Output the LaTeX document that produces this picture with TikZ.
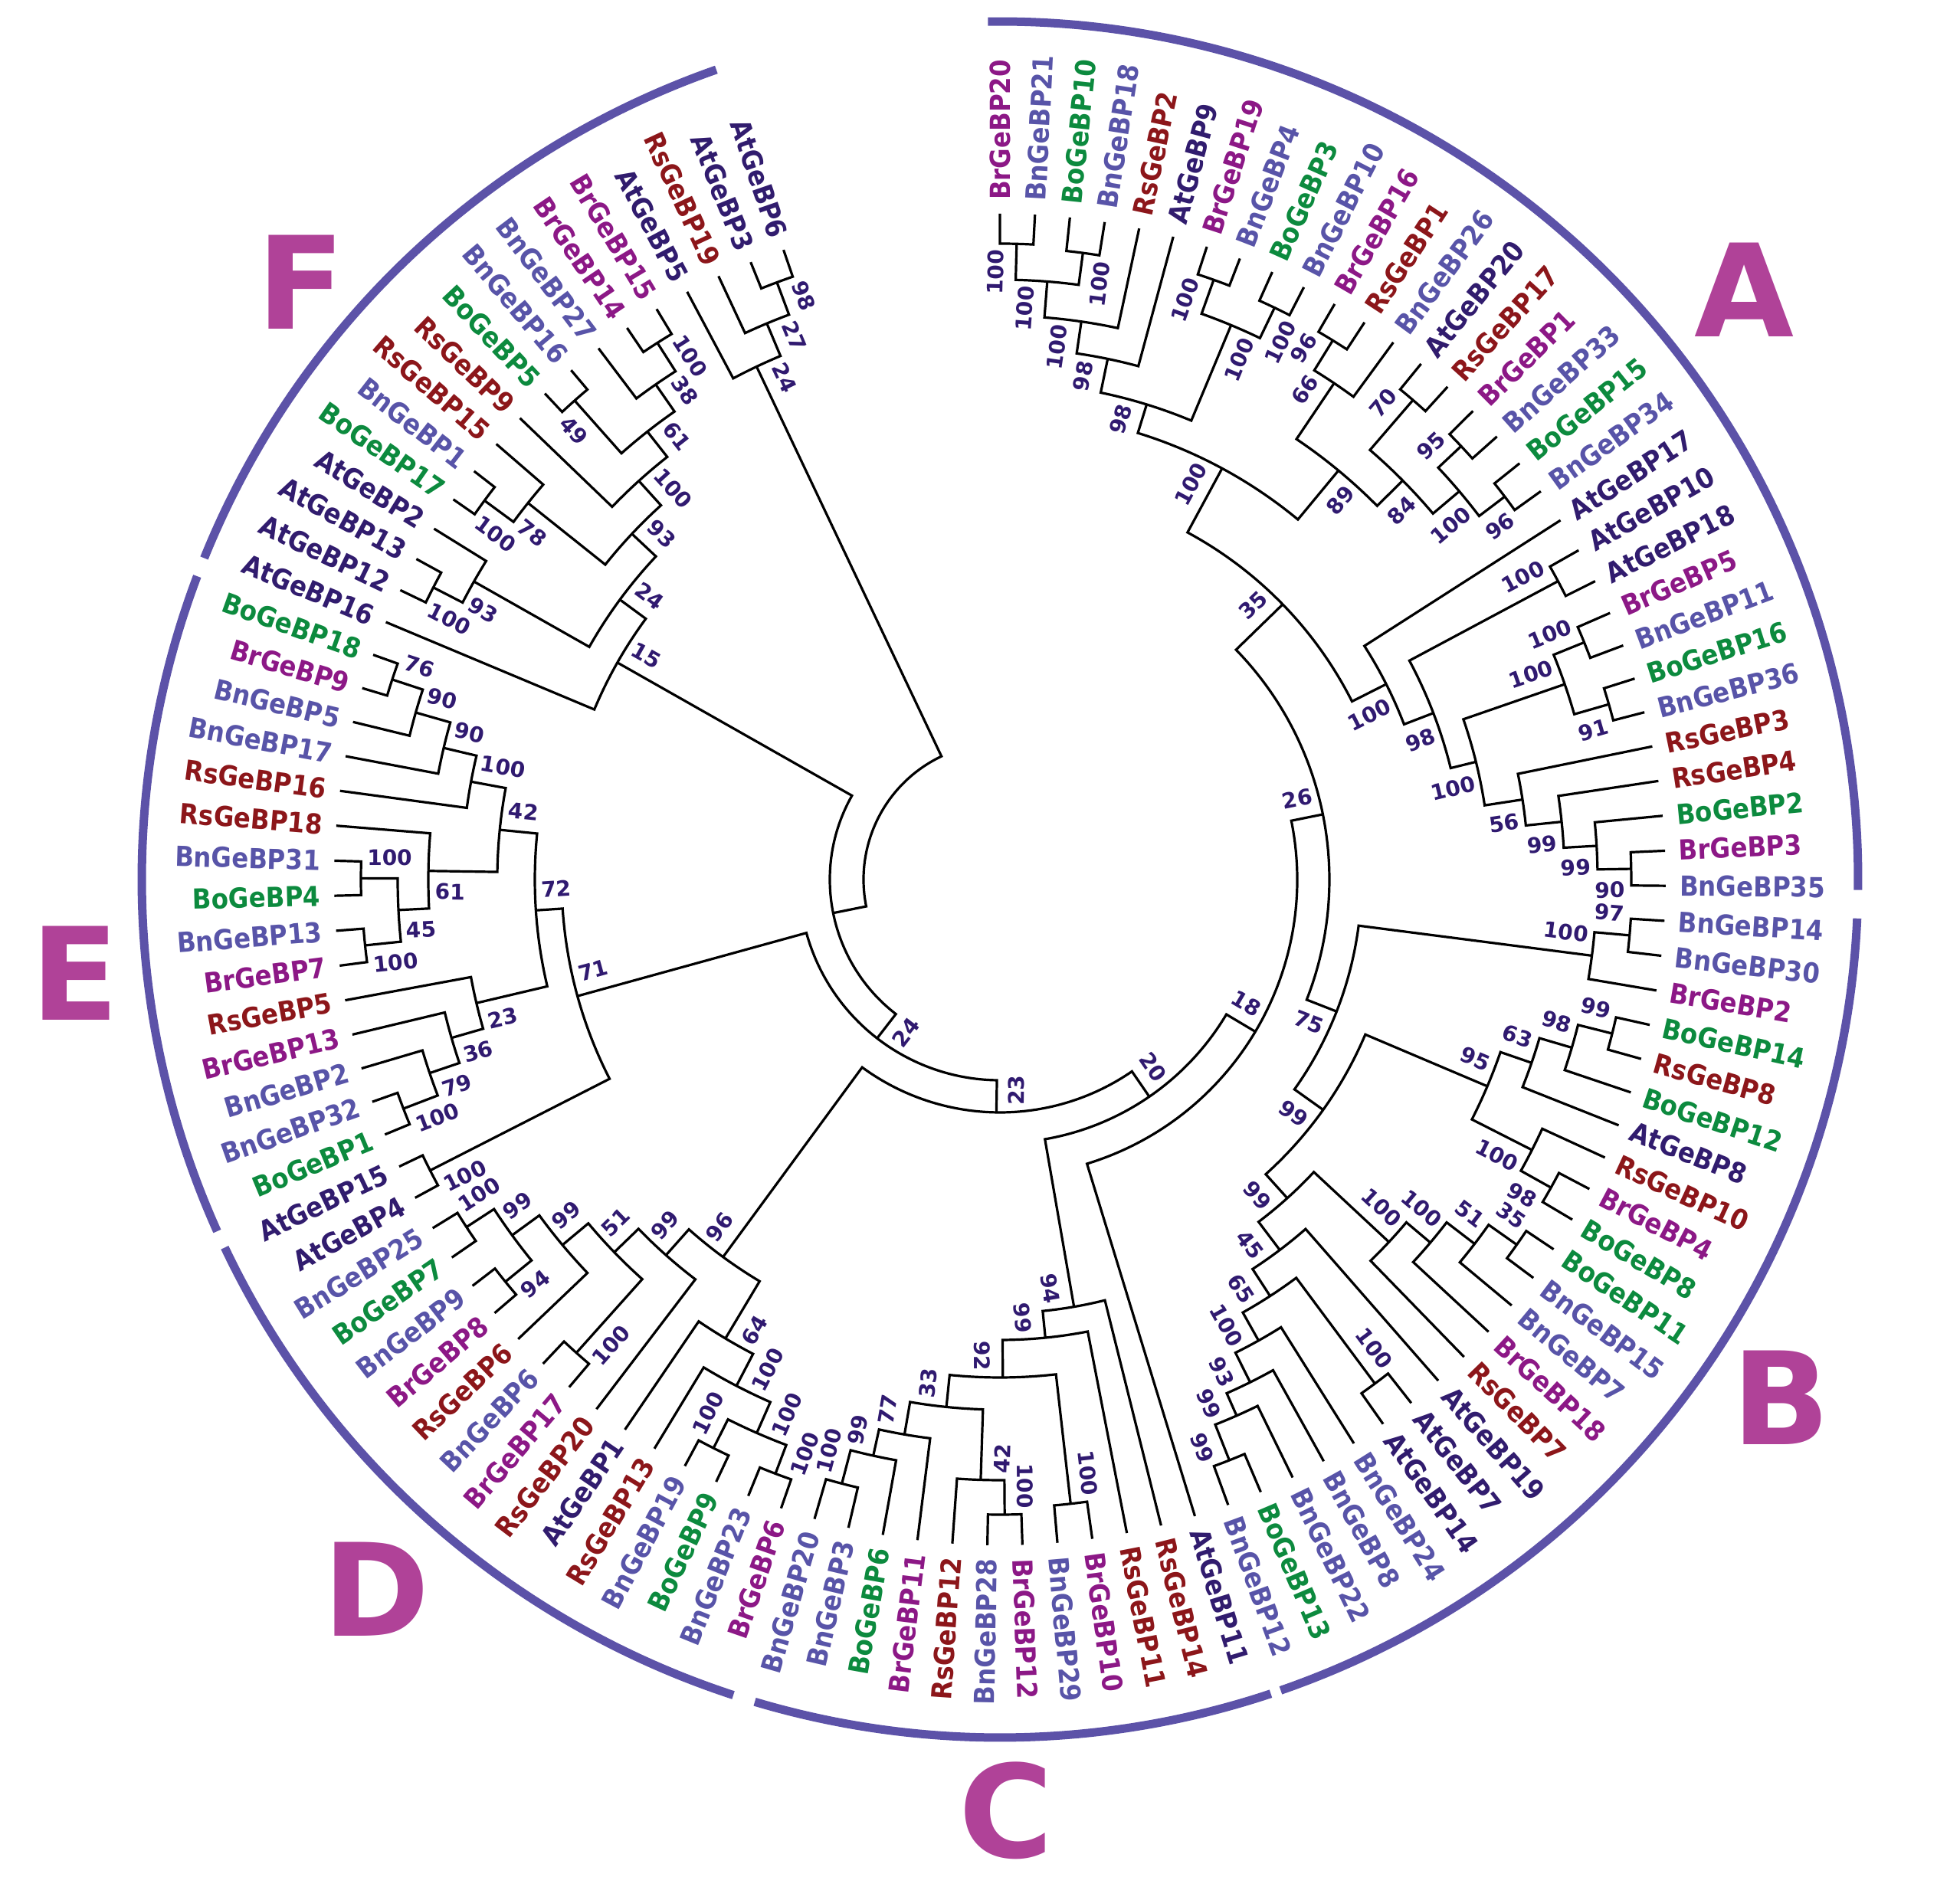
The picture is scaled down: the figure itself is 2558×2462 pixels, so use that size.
\documentclass[tikz,border=0pt]{standalone}
\usepackage{fontspec}
\setmainfont{DejaVu Sans}
\newfontfamily\labfont[FakeStretch=0.9]{DejaVu Sans}
\definecolor{cAt}{RGB}{49,28,110}
\definecolor{cBn}{RGB}{88,84,168}
\definecolor{cBr}{RGB}{140,24,134}
\definecolor{cBo}{RGB}{12,138,62}
\definecolor{cRs}{RGB}{140,22,26}
\definecolor{bsc}{RGB}{48,26,112}
\definecolor{barc}{RGB}{92,82,168}
\definecolor{letc}{RGB}{176,66,152}
\newcommand\gtip[3]{%
  \pgfmathsetmacro\tmpang{90-3.018*#1}%
  \expandafter\xdef\csname ang@t#1\endcsname{\tmpang}%
  \expandafter\xdef\csname rad@t#1\endcsname{869}%
  \expandafter\xdef\csname bs@t#1\endcsname{}%
  \ifdim\tmpang pt>-90pt
    \node[lab,text=c#3,rotate=\tmpang,anchor=west] (t#1) at (\tmpang:887pt) {#2};%
  \else
    \pgfmathsetmacro\tmprot{\tmpang+180}%
    \node[lab,text=c#3,rotate=\tmprot,anchor=east] (t#1) at (\tmpang:887pt) {#2};%
  \fi}
\newcommand\bslabel[2]{%
  \edef\bsv{\csname bs@#1\endcsname}%
  \ifx\bsv\empty\else
    \edef\bna{\csname ang@#1\endcsname}%
    \edef\bnr{\csname rad@#1\endcsname}%
    \pgfmathsetmacro\bsA{\bna+#2*1604/\bnr}%
    \pgfmathsetmacro\bsR{\bnr-(\bsv>99?37:28)}%
    \ifdim\bna pt>-90pt \edef\bsRot{\bna}\else\pgfmathsetmacro\bsRot{\bna+180}\fi
    \node[bsl,rotate=\bsRot] (b#1) at (\bsA:\bsR pt) {\bsv};%
  \fi}
\newcommand\inode[5]{%
  \edef\ca{\csname ang@#2\endcsname}%
  \edef\cb{\csname ang@#3\endcsname}%
  \edef\ra{\csname rad@#2\endcsname}%
  \edef\rb{\csname rad@#3\endcsname}%
  \pgfmathsetmacro\tmpang{(\ca+\cb)/2}%
  \expandafter\xdef\csname ang@#1\endcsname{\tmpang}%
  \expandafter\xdef\csname rad@#1\endcsname{#4}%
  \expandafter\xdef\csname bs@#1\endcsname{#5}%
  \draw[br] (\ca:\ra pt) -- (\ca:#4pt) arc[start angle=\ca, end angle=\cb, radius=#4pt] -- (\cb:\rb pt);%
  \bslabel{#2}{1}\bslabel{#3}{-1}}
\begin{document}
\begin{tikzpicture}[x=1pt,y=1pt,
  br/.style={line width=3.2pt,black},
  lab/.style={inner sep=0pt,font=\labfont\bfseries\fontsize{36}{40}\selectfont},
  bsl/.style={inner sep=0pt,text=bsc,font=\fontsize{28}{30}\selectfont\bfseries},
  cbar/.style={line width=11pt,draw=barc},
  clet/.style={text=letc,inner sep=0pt,font=\fontsize{168}{172}\selectfont\bfseries}]
\fill[white] (-1305,-1314) rectangle (1253,1148);
\useasboundingbox (-1305,-1314) rectangle (1253,1148);
% tips
\gtip{0}{BrGeBP20}{Br}\gtip{1}{BnGeBP21}{Bn}\gtip{2}{BoGeBP10}{Bo}\gtip{3}{BnGeBP18}{Bn}
\gtip{4}{RsGeBP2}{Rs}\gtip{5}{AtGeBP9}{At}\gtip{6}{BrGeBP19}{Br}\gtip{7}{BnGeBP4}{Bn}
\gtip{8}{BoGeBP3}{Bo}\gtip{9}{BnGeBP10}{Bn}\gtip{10}{BrGeBP16}{Br}\gtip{11}{RsGeBP1}{Rs}
\gtip{12}{BnGeBP26}{Bn}\gtip{13}{AtGeBP20}{At}\gtip{14}{RsGeBP17}{Rs}\gtip{15}{BrGeBP1}{Br}
\gtip{16}{BnGeBP33}{Bn}\gtip{17}{BoGeBP15}{Bo}\gtip{18}{BnGeBP34}{Bn}\gtip{19}{AtGeBP17}{At}
\gtip{20}{AtGeBP10}{At}\gtip{21}{AtGeBP18}{At}\gtip{22}{BrGeBP5}{Br}\gtip{23}{BnGeBP11}{Bn}
\gtip{24}{BoGeBP16}{Bo}\gtip{25}{BnGeBP36}{Bn}\gtip{26}{RsGeBP3}{Rs}\gtip{27}{RsGeBP4}{Rs}
\gtip{28}{BoGeBP2}{Bo}\gtip{29}{BrGeBP3}{Br}\gtip{30}{BnGeBP35}{Bn}\gtip{31}{BnGeBP14}{Bn}
\gtip{32}{BnGeBP30}{Bn}\gtip{33}{BrGeBP2}{Br}\gtip{34}{BoGeBP14}{Bo}\gtip{35}{RsGeBP8}{Rs}
\gtip{36}{BoGeBP12}{Bo}\gtip{37}{AtGeBP8}{At}\gtip{38}{RsGeBP10}{Rs}\gtip{39}{BrGeBP4}{Br}
\gtip{40}{BoGeBP8}{Bo}\gtip{41}{BoGeBP11}{Bo}\gtip{42}{BnGeBP15}{Bn}\gtip{43}{BnGeBP7}{Bn}
\gtip{44}{BrGeBP18}{Br}\gtip{45}{RsGeBP7}{Rs}\gtip{46}{AtGeBP19}{At}\gtip{47}{AtGeBP7}{At}
\gtip{48}{AtGeBP14}{At}\gtip{49}{BnGeBP24}{Bn}\gtip{50}{BnGeBP8}{Bn}\gtip{51}{BnGeBP22}{Bn}
\gtip{52}{BoGeBP13}{Bo}\gtip{53}{BnGeBP12}{Bn}\gtip{54}{AtGeBP11}{At}\gtip{55}{RsGeBP14}{Rs}
\gtip{56}{RsGeBP11}{Rs}\gtip{57}{BrGeBP10}{Br}\gtip{58}{BnGeBP29}{Bn}\gtip{59}{BrGeBP12}{Br}
\gtip{60}{BnGeBP28}{Bn}\gtip{61}{RsGeBP12}{Rs}\gtip{62}{BrGeBP11}{Br}\gtip{63}{BoGeBP6}{Bo}
\gtip{64}{BnGeBP3}{Bn}\gtip{65}{BnGeBP20}{Bn}\gtip{66}{BrGeBP6}{Br}\gtip{67}{BnGeBP23}{Bn}
\gtip{68}{BoGeBP9}{Bo}\gtip{69}{BnGeBP19}{Bn}\gtip{70}{RsGeBP13}{Rs}\gtip{71}{AtGeBP1}{At}
\gtip{72}{RsGeBP20}{Rs}\gtip{73}{BrGeBP17}{Br}\gtip{74}{BnGeBP6}{Bn}\gtip{75}{RsGeBP6}{Rs}
\gtip{76}{BrGeBP8}{Br}\gtip{77}{BnGeBP9}{Bn}\gtip{78}{BoGeBP7}{Bo}\gtip{79}{BnGeBP25}{Bn}
\gtip{80}{AtGeBP4}{At}\gtip{81}{AtGeBP15}{At}\gtip{82}{BoGeBP1}{Bo}\gtip{83}{BnGeBP32}{Bn}
\gtip{84}{BnGeBP2}{Bn}\gtip{85}{BrGeBP13}{Br}\gtip{86}{RsGeBP5}{Rs}\gtip{87}{BrGeBP7}{Br}
\gtip{88}{BnGeBP13}{Bn}\gtip{89}{BoGeBP4}{Bo}\gtip{90}{BnGeBP31}{Bn}\gtip{91}{RsGeBP18}{Rs}
\gtip{92}{RsGeBP16}{Rs}\gtip{93}{BnGeBP17}{Bn}\gtip{94}{BnGeBP5}{Bn}\gtip{95}{BrGeBP9}{Br}
\gtip{96}{BoGeBP18}{Bo}\gtip{97}{AtGeBP16}{At}\gtip{98}{AtGeBP12}{At}\gtip{99}{AtGeBP13}{At}
\gtip{100}{AtGeBP2}{At}\gtip{101}{BoGeBP17}{Bo}\gtip{102}{BnGeBP1}{Bn}\gtip{103}{RsGeBP15}{Rs}
\gtip{104}{RsGeBP9}{Rs}\gtip{105}{BoGeBP5}{Bo}\gtip{106}{BnGeBP16}{Bn}\gtip{107}{BnGeBP27}{Bn}
\gtip{108}{BrGeBP14}{Br}\gtip{109}{BrGeBP15}{Br}\gtip{110}{AtGeBP5}{At}\gtip{111}{RsGeBP19}{Rs}
\gtip{112}{AtGeBP3}{At}\gtip{113}{AtGeBP6}{At}
% clade A
\inode{a01}{t0}{t1}{830}{100}
\inode{a23}{t2}{t3}{825}{100}
\inode{a03}{a01}{a23}{783}{100}
\inode{a04}{a03}{t4}{736}{100}
\inode{a05}{a04}{t5}{694}{98}
\inode{a67}{t6}{t7}{831}{100}
\inode{a89}{t8}{t9}{828}{100}
\inode{a69}{a67}{a89}{784}{100}
\inode{a09}{a05}{a69}{649}{98}
\inode{a1011}{t10}{t11}{827}{96}
\inode{a1012}{a1011}{t12}{781}{66}
\inode{a1314}{t13}{t14}{826}{70}
\inode{a1516}{t15}{t16}{826}{95}
\inode{a1718}{t17}{t18}{827}{96}
\inode{a1518}{a1516}{a1718}{785}{100}
\inode{a1318}{a1314}{a1518}{740}{84}
\inode{a1018}{a1012}{a1318}{693}{89}
\inode{a018}{a09}{a1018}{610}{100}
\inode{a2021}{t20}{t21}{826}{100}
\inode{a2223}{t22}{t23}{823}{100}
\inode{a2425}{t24}{t25}{827}{91}
\inode{a2225}{a2223}{a2425}{780}{100}
\inode{a2930}{t29}{t30}{824}{90}
\inode{a2830}{t28}{a2930}{780}{99}
\inode{a2730}{t27}{a2830}{737}{99}
\inode{a2630}{t26}{a2730}{690}{56}
\inode{a2230}{a2225}{a2630}{640}{100}
\inode{a2030}{a2021}{a2230}{606}{98}
\inode{a1930}{t19}{a2030}{565}{100}
\inode{a35}{a018}{a1930}{515}{35}
% clade B
\inode{b3132}{t31}{t32}{825}{97}
\inode{b3133}{b3132}{t33}{779}{100}
\inode{b3435}{t34}{t35}{824}{99}
\inode{b3436}{b3435}{t36}{778}{98}
\inode{b3437}{b3436}{t37}{734}{63}
\inode{b3940}{t39}{t40}{824}{98}
\inode{b3840}{t38}{b3940}{779}{100}
\inode{b3440}{b3437}{b3840}{691}{95}
\inode{b4142}{t41}{t42}{826}{35}
\inode{b4143}{b4142}{t43}{781}{51}
\inode{b4144}{b4143}{t44}{735}{100}
\inode{b4145}{b4144}{t45}{694}{100}
\inode{b4748}{t47}{t48}{820}{100}
\inode{b5253}{t52}{t53}{815}{99}
\inode{b5153}{t51}{b5253}{765}{99}
\inode{b5053}{t50}{b5153}{733}{93}
\inode{b4953}{t49}{b5053}{690}{100}
\inode{b4753}{b4748}{b4953}{648}{65}
\inode{b4653}{t46}{b4753}{606}{45}
\inode{b4153}{b4145}{b4653}{560}{99}
\inode{b3453}{b3440}{b4153}{518}{99}
\inode{b75}{b3133}{b3453}{472}{75}
% clade C
\inode{c5758}{t57}{t58}{820}{100}
\inode{c5960}{t59}{t60}{829}{100}
\inode{c5961}{c5960}{t61}{784}{42}
\inode{c6465}{t64}{t65}{815}{100}
\inode{c6365}{t63}{c6465}{770}{99}
\inode{c6265}{t62}{c6365}{735}{77}
\inode{c5965}{c5961}{c6265}{692}{33}
\inode{c5765}{c5758}{c5965}{650}{92}
\inode{c5665}{t56}{c5765}{601}{99}
\inode{c94}{t55}{c5665}{566}{94}
% clade D
\inode{d6667}{t66}{t67}{829}{100}
\inode{d6869}{t68}{t69}{831}{100}
\inode{d6669}{d6667}{d6869}{789}{100}
\inode{d6670}{d6669}{t70}{745}{100}
\inode{d6671}{d6670}{t71}{698}{64}
\inode{d7374}{t73}{t74}{829}{100}
\inode{d7677}{t76}{t77}{832}{94}
\inode{d7879}{t78}{t79}{831}{100}
\inode{d7679}{d7677}{d7879}{788}{99}
\inode{d7579}{t75}{d7679}{744}{99}
\inode{d7379}{d7374}{d7579}{700}{51}
\inode{d7279}{t72}{d7379}{656}{99}
\inode{d96}{d6671}{d7279}{611}{96}
% clade E
\inode{e8081}{t80}{t81}{835}{100}
\inode{e8283}{t82}{t83}{834}{100}
\inode{e8284}{e8283}{t84}{786}{79}
\inode{e8285}{e8284}{t85}{745}{36}
\inode{e8286}{e8285}{t86}{702}{23}
\inode{e8788}{t87}{t88}{833}{100}
\inode{e8990}{t89}{t90}{834}{100}
\inode{e8790}{e8788}{e8990}{786}{45}
\inode{e8791}{e8790}{t91}{746}{61}
\inode{e9596}{t95}{t96}{835}{76}
\inode{e9496}{t94}{e9596}{793}{90}
\inode{e9396}{t93}{e9496}{746}{90}
\inode{e9296}{t92}{e9396}{702}{100}
\inode{e8796}{e8791}{e9296}{656}{42}
\inode{e8296}{e8286}{e8796}{607}{72}
\inode{e71}{e8081}{e8296}{572}{71}
% clade F
\inode{f9899}{t98}{t99}{832}{100}
\inode{f98100}{f9899}{t100}{789}{93}
\inode{f101102}{t101}{t102}{835}{100}
\inode{f101103}{f101102}{t103}{788}{78}
\inode{f105106}{t105}{t106}{836}{49}
\inode{f108109}{t108}{t109}{831}{100}
\inode{f107109}{t107}{f108109}{787}{38}
\inode{f105109}{f105106}{f107109}{744}{61}
\inode{f104109}{t104}{f105109}{702}{100}
\inode{f101109}{f101103}{f104109}{659}{93}
\inode{f98109}{f98100}{f101109}{616}{24}
\inode{f15}{t97}{f98109}{574}{15}
\inode{f112113}{t112}{t113}{832}{98}
\inode{f111113}{t111}{f112113}{787}{27}
\inode{f110113}{t110}{f111113}{741}{24}
% backbone
\inode{r26}{a35}{b75}{430}{26}
\inode{r18}{r26}{t54}{388}{18}
\inode{r20}{r18}{c94}{344}{20}
\inode{r23}{r20}{d96}{304}{23}
\inode{r24}{r23}{e71}{262}{24}
\inode{r2}{r24}{f15}{222}{}
\inode{r1}{r2}{f110113}{178}{}
% clade bars
\draw[cbar] (90.8:1120) arc[start angle=90.8,end angle=-0.7,radius=1120pt];
\draw[cbar] (-2.6:1120) arc[start angle=-2.6,end angle=-70.9,radius=1120pt];
\draw[cbar] (-71.6:1120) arc[start angle=-71.6,end angle=-106.6,radius=1120pt];
\draw[cbar] (-108.1:1120) arc[start angle=-108.1,end angle=-154.6,radius=1120pt];
\draw[cbar] (-155.8:1120) arc[start angle=-155.8,end angle=-200.7,radius=1120pt];
\draw[cbar] (-202:1120) arc[start angle=-202,end angle=-250.7,radius=1120pt];
% clade letters
\node[clet] (LA) at (971,770) {A};
\node[clet] (LB) at (1020,-676) {B};
\node[clet] (LC) at (8,-1215) {C};
\node[clet] (LD) at (-814,-926) {D};
\node[clet] (LE) at (-1207,-122) {E};
\node[clet] (LF) at (-912,780) {F};
\end{tikzpicture}
\end{document}
